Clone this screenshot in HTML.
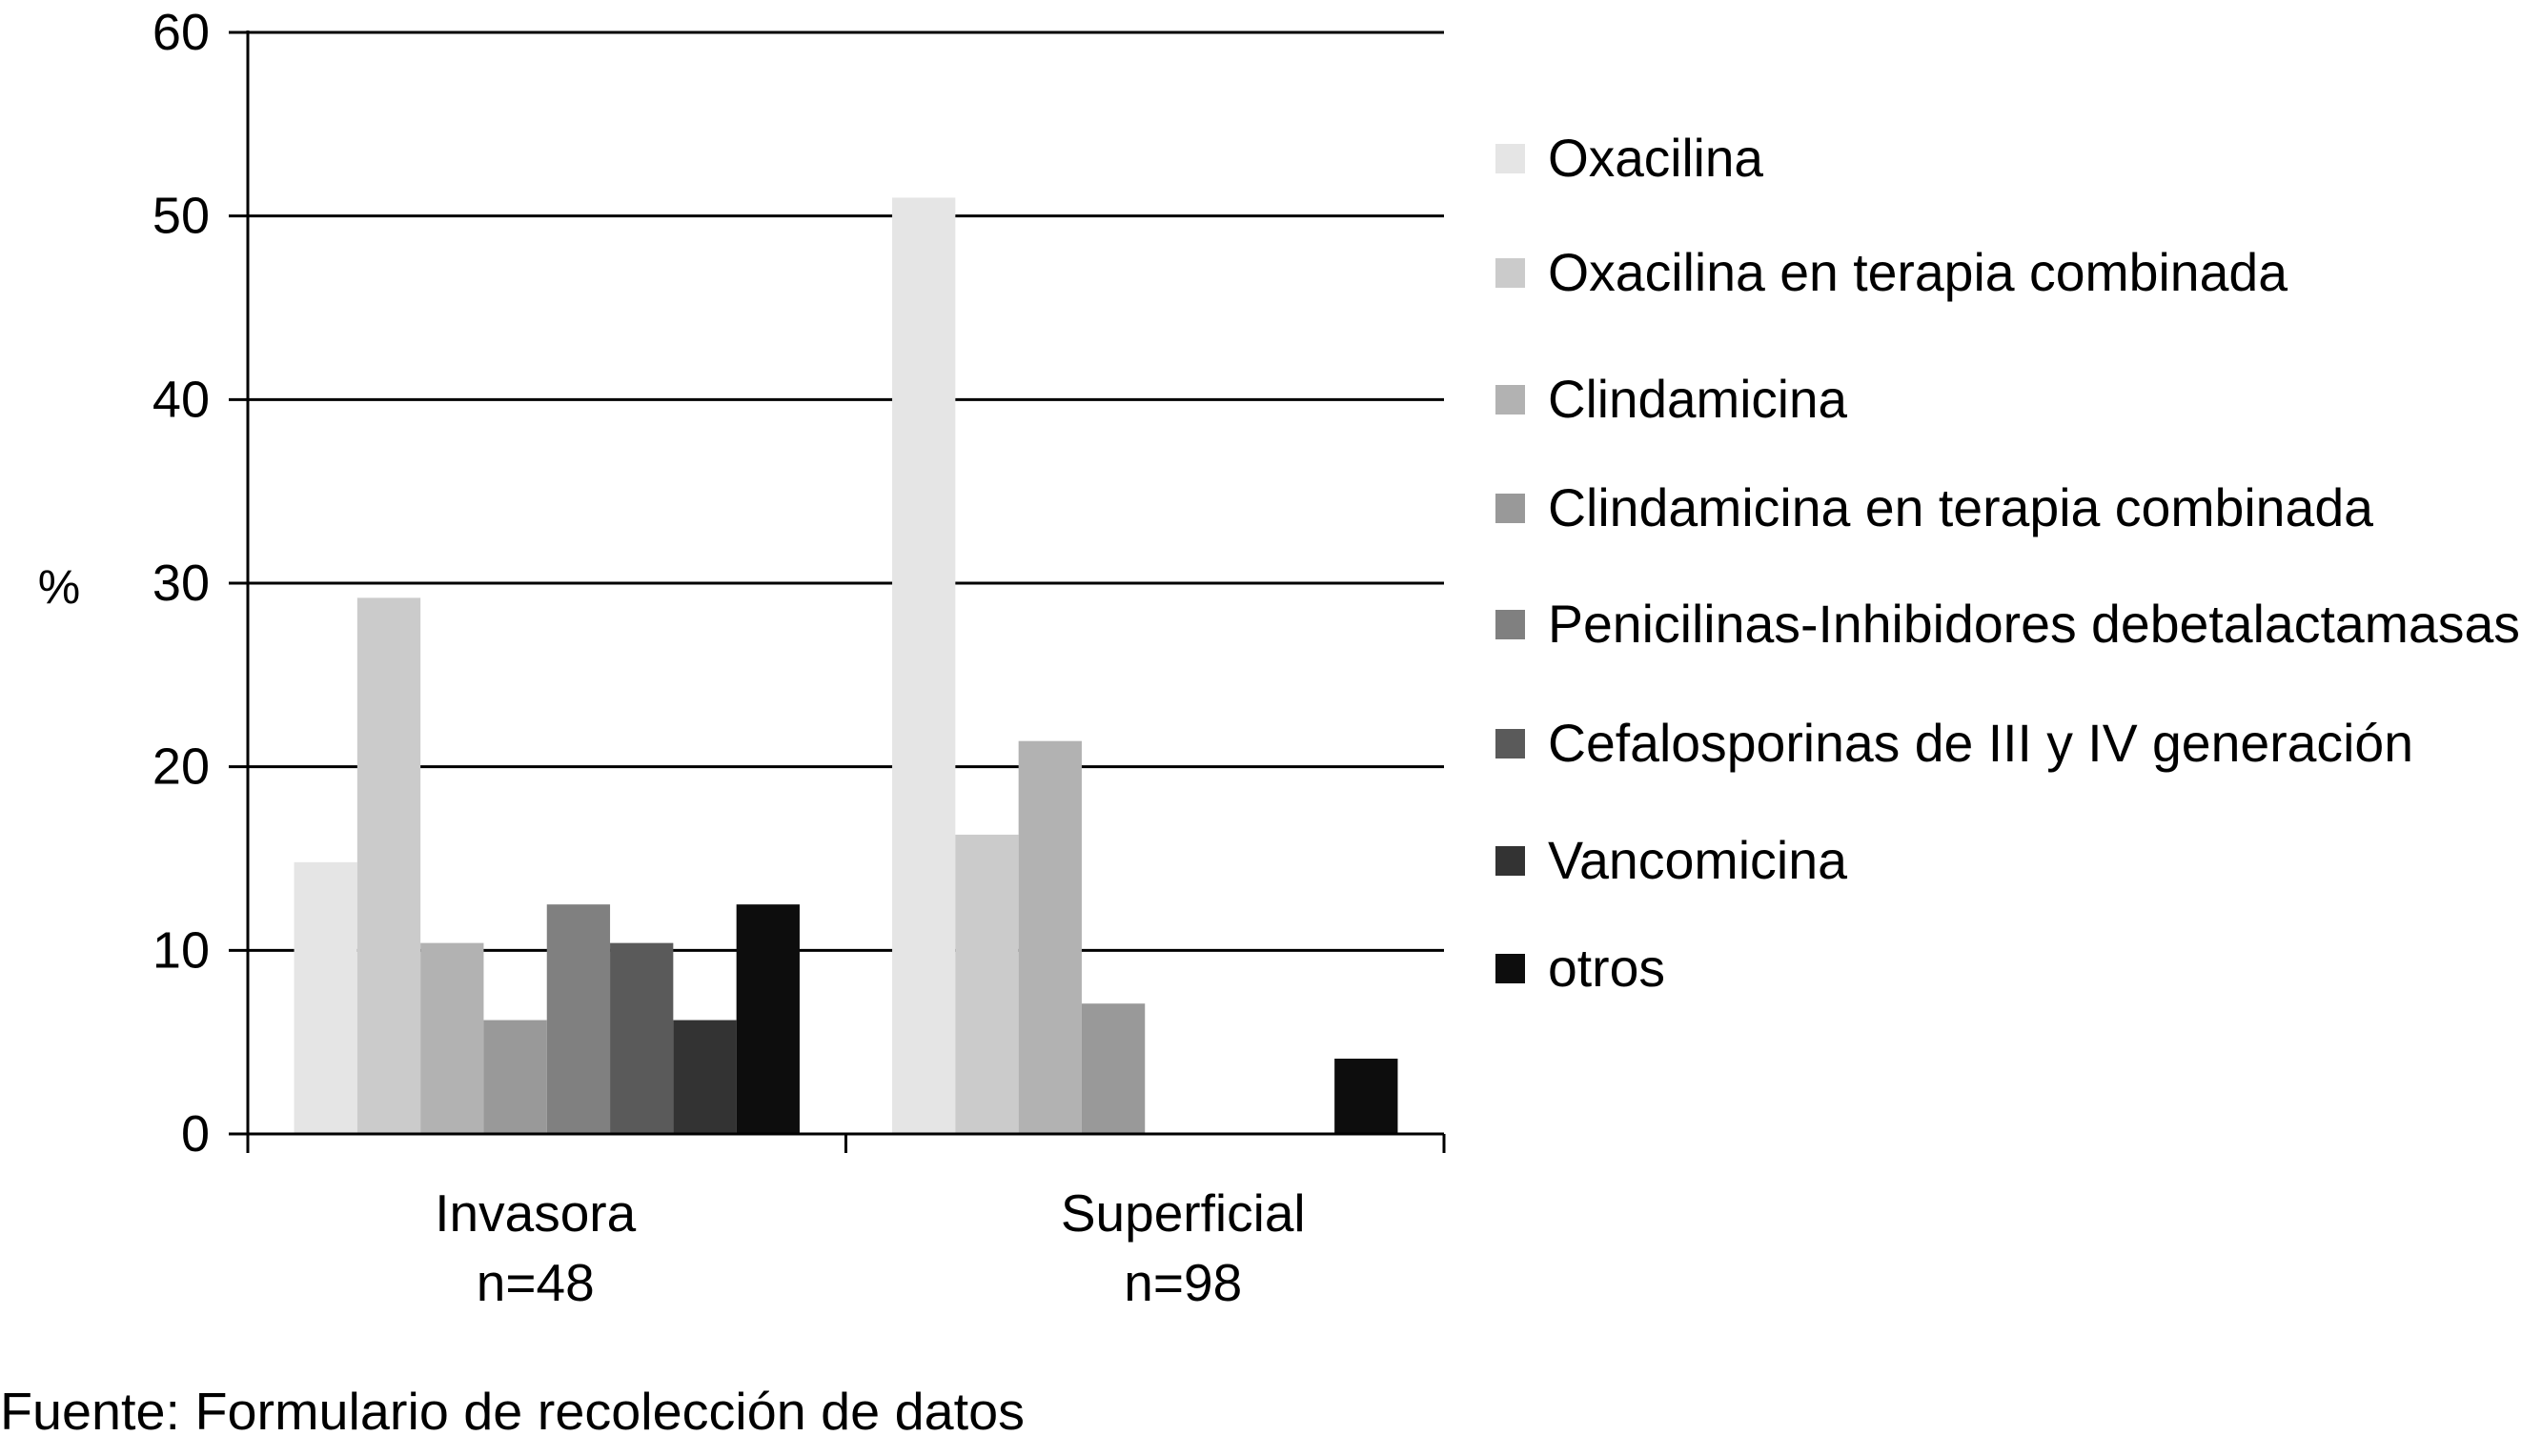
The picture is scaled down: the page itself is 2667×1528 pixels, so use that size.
<!DOCTYPE html>
<html><head><meta charset="utf-8"><style>
html,body{margin:0;padding:0;background:#fff;}
svg{display:block;font-family:"Liberation Sans",Arial,sans-serif;}
</style></head><body>
<svg id="chart" width="2667" height="1528" viewBox="0 0 2667 1528"></svg>
<script>
const categories = ["Invasora", "Superficial"];
const categorySub = ["n=48", "n=98"];
const seriesNames = ["Oxacilina","Oxacilina en terapia combinada","Clindamicina","Clindamicina en terapia combinada","Penicilinas-Inhibidores debetalactamasas","Cefalosporinas de III y IV generación","Vancomicina","otros"];
const invasoraValues = [14.8, 29.2, 10.4, 6.2, 12.5, 10.4, 6.2, 12.5];
const superficialValues = [51, 16.3, 21.4, 7.1, 0, 0, 0, 4.1];
const yTicks = [0, 10, 20, 30, 40, 50, 60];
const colors = ["#e5e5e5","#cbcbcb","#b2b2b2","#999999","#808080","#5a5a5a","#333333","#0d0d0d"];

const NS = "http://www.w3.org/2000/svg";
const svg = document.getElementById("chart");
const X0 = 260, X1 = 1515, Y0 = 1190, Y1 = 34, YMAX = 60;
function yScale(v){ return Y0 - (v / YMAX) * (Y0 - Y1); }
const catW = (X1 - X0) / categories.length;
const barW = 66.3;
function barX(ci, si){ return X0 + ci * catW + (catW - barW * seriesNames.length) / 2 + si * barW; }
function mk(tag, attrs){ const e = document.createElementNS(NS, tag); for (const k in attrs) e.setAttribute(k, attrs[k]); svg.appendChild(e); return e; }

yTicks.forEach(t => {
  const y = yScale(t);
  if (t > 0) {
    const g = mk("line", {x1: X0, x2: X1, y1: y, y2: y, stroke: "#000", "stroke-width": 3});
    
    
  }
  const tk = mk("line", {x1: 240, x2: X0, y1: y, y2: y, stroke: "#000", "stroke-width": 3});
  
  
  const lb = mk("text", {x: 220, y: y + 18, "text-anchor": "end", "font-size": 54});
  lb.textContent = t;
  
  
});

const allValues = [invasoraValues, superficialValues];
allValues.forEach((vals, ci) => {
  vals.forEach((v, si) => {
    if (v <= 0) return;
    const r = mk("rect", {x: barX(ci, si), y: yScale(v), width: barW, height: Y0 - yScale(v), fill: colors[si]});
    
    
  });
});

const ya = mk("line", {x1: X0, x2: X0, y1: Y1 - 2, y2: 1210, stroke: "#000", "stroke-width": 3});


const xa = mk("line", {x1: 240, x2: X1, y1: Y0, y2: Y0, stroke: "#000", "stroke-width": 3});


for (let i = 1; i <= categories.length; i++) {
  const x = X0 + i * catW;
  const t = mk("line", {x1: x, x2: x, y1: Y0, y2: 1210, stroke: "#000", "stroke-width": 3});
  
  
}
const labelOffsets = [-12, 40];
categories.forEach((c, ci) => {
  const cx = X0 + (ci + 0.5) * catW + labelOffsets[ci];
  const a = mk("text", {x: cx, y: 1292, "text-anchor": "middle", "font-size": 55});
  a.textContent = c;
  
  
  const b = mk("text", {x: cx, y: 1365, "text-anchor": "middle", "font-size": 55});
  b.textContent = categorySub[ci];
  
  
});

const yt = mk("text", {x: 62, y: 633, "text-anchor": "middle", "font-size": 50});
yt.textContent = "%";



const legendY = [166, 286, 419, 533, 655, 780, 903, 1016];
const legendW = [226, 776, 314, 866, 1020, 908, 314, 123];
seriesNames.forEach((n, i) => {
  const sw = mk("rect", {x: 1569, y: legendY[i] - 15, width: 31, height: 31, fill: colors[i]});
  
  
  const t = mk("text", {x: 1624, y: legendY[i] + 19, "font-size": 56, textLength: legendW[i], lengthAdjust: "spacingAndGlyphs"});
  t.textContent = n;
  
  
});

const f = mk("text", {x: 0, y: 1500, "font-size": 55, textLength: 1075, lengthAdjust: "spacingAndGlyphs"});
f.textContent = "Fuente: Formulario de recolección de datos";


</script>
</body></html>
